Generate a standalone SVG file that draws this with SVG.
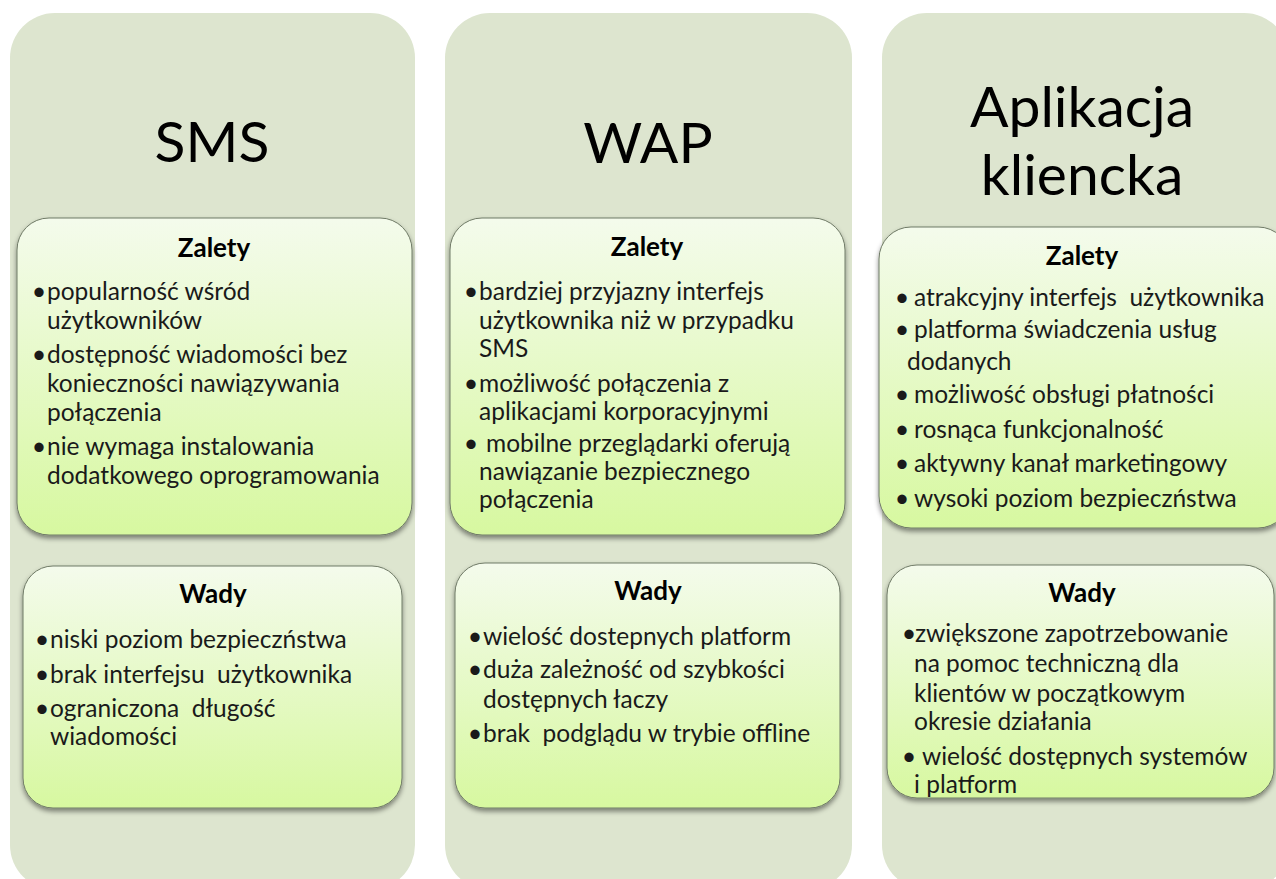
<svg xmlns="http://www.w3.org/2000/svg" width="1276" height="879" viewBox="0 0 1276 879">
<defs>
<linearGradient id="boxGrad" x1="0" y1="0" x2="0" y2="1">
<stop offset="0" stop-color="#F4FBEC"/>
<stop offset="1" stop-color="#D7F8A0"/>
</linearGradient>
<filter id="shadow" x="-5%" y="-5%" width="110%" height="115%">
<feDropShadow dx="0" dy="3" stdDeviation="2.5" flood-color="#000" flood-opacity="0.45"/>
</filter>
</defs>
<style>
.panel{fill:#DDE5CF}
.box{fill:url(#boxGrad);stroke:#6F7A66;stroke-width:1;filter:url(#shadow)}
.title{font-family:Lato,"Open Sans",sans-serif;font-size:57px;fill:#000;text-anchor:middle}
.head{font-family:Lato,"Open Sans",sans-serif;font-weight:bold;font-size:26px;fill:#000;text-anchor:middle}
.item{font-family:Lato,"Open Sans",sans-serif;font-size:24.5px;fill:#1a1a1a;white-space:pre}
.bul{font-family:Lato,"Open Sans",sans-serif;font-size:25px;fill:#1a1a1a;text-anchor:middle}
</style>
<rect width="1276" height="879" fill="#FFFFFF"/>

<g id="sms">
<rect class="panel" x="10" y="13" width="405" height="877" rx="45"/>
<text class="title" x="212" y="162">SMS</text>
<g id="sms-zalety">
<rect class="box" x="17" y="218" width="395" height="317" rx="32"/>
<text class="head" x="214" y="257">Zalety</text>
<text class="bul" x="39" y="300">•</text>
<text class="bul" x="39" y="363">•</text>
<text class="bul" x="39" y="455">•</text>
<text class="item" x="47" y="300">popularność wśród</text>
<text class="item" x="47" y="329">użytkowników</text>
<text class="item" x="47" y="363">dostępność wiadomości bez</text>
<text class="item" x="47" y="392">konieczności nawiązywania</text>
<text class="item" x="47" y="421">połączenia</text>
<text class="item" x="47" y="455">nie wymaga instalowania</text>
<text class="item" x="47" y="484">dodatkowego oprogramowania</text>
</g>
<g id="sms-wady">
<rect class="box" x="23" y="566" width="379" height="242" rx="30"/>
<text class="head" x="213" y="603">Wady</text>
<text class="bul" x="42" y="648">•</text>
<text class="bul" x="42" y="683">•</text>
<text class="bul" x="42" y="717">•</text>
<text class="item" x="50" y="648">niski poziom bezpieczństwa</text>
<text class="item" x="50" y="683">brak interfejsu  użytkownika</text>
<text class="item" x="50" y="717">ograniczona  długość</text>
<text class="item" x="50" y="745">wiadomości</text>
</g>
</g>

<g id="wap">
<rect class="panel" x="445" y="13" width="407" height="877" rx="45"/>
<text class="title" x="648" y="163">WAP</text>
<g id="wap-zalety">
<rect class="box" x="450" y="218" width="395" height="317" rx="32"/>
<text class="head" x="647" y="256">Zalety</text>
<text class="bul" x="471" y="300">•</text>
<text class="bul" x="471" y="392">•</text>
<text class="bul" x="471" y="452">•</text>
<text class="item" x="479" y="300">bardziej przyjazny interfejs</text>
<text class="item" x="479" y="329">użytkownika niż w przypadku</text>
<text class="item" x="479" y="357">SMS</text>
<text class="item" x="479" y="392">możliwość połączenia z</text>
<text class="item" x="479" y="420">aplikacjami korporacyjnymi</text>
<text class="item" x="486" y="452">mobilne przeglądarki oferują</text>
<text class="item" x="479" y="480">nawiązanie bezpiecznego</text>
<text class="item" x="479" y="508">połączenia</text>
</g>
<g id="wap-wady">
<rect class="box" x="455" y="563" width="385" height="245" rx="30"/>
<text class="head" x="648" y="600">Wady</text>
<text class="bul" x="475" y="645">•</text>
<text class="bul" x="475" y="678">•</text>
<text class="bul" x="475" y="742">•</text>
<text class="item" x="483" y="645">wielość dostepnych platform</text>
<text class="item" x="483" y="678">duża zależność od szybkości</text>
<text class="item" x="483" y="708">dostępnych łaczy</text>
<text class="item" x="483" y="742">brak  podglądu w trybie offline</text>
</g>
</g>

<g id="aplikacja">
<rect class="panel" x="882" y="13" width="407" height="877" rx="45"/>
<text class="title" x="1082" y="127">Aplikacja</text>
<text class="title" x="1082" y="195">kliencka</text>
<g id="aplikacja-zalety">
<rect class="box" x="879" y="227" width="411" height="301" rx="32"/>
<text class="head" x="1082" y="265">Zalety</text>
<text class="bul" x="902" y="306">•</text>
<text class="bul" x="902" y="338">•</text>
<text class="bul" x="902" y="403">•</text>
<text class="bul" x="902" y="438">•</text>
<text class="bul" x="902" y="472">•</text>
<text class="bul" x="902" y="507">•</text>
<text class="item" x="914" y="306">atrakcyjny interfejs  użytkownika</text>
<text class="item" x="914" y="338">platforma świadczenia usług</text>
<text class="item" x="907" y="370">dodanych</text>
<text class="item" x="914" y="403">możliwość obsługi płatności</text>
<text class="item" x="914" y="438">rosnąca funkcjonalność</text>
<text class="item" x="914" y="472">aktywny kanał marketingowy</text>
<text class="item" x="914" y="507">wysoki poziom bezpieczństwa</text>
</g>
<g id="aplikacja-wady">
<rect class="box" x="887" y="565" width="387" height="233" rx="30"/>
<text class="head" x="1082" y="602">Wady</text>
<text class="bul" x="909" y="642">•</text>
<text class="bul" x="909" y="765">•</text>
<text class="item" x="915" y="642">zwiększone zapotrzebowanie</text>
<text class="item" x="914" y="672">na pomoc techniczną dla</text>
<text class="item" x="914" y="702">klientów w początkowym</text>
<text class="item" x="914" y="730">okresie działania</text>
<text class="item" x="922" y="765">wielość dostępnych systemów</text>
<text class="item" x="914" y="793">i platform</text>
</g>
</g>
</svg>
